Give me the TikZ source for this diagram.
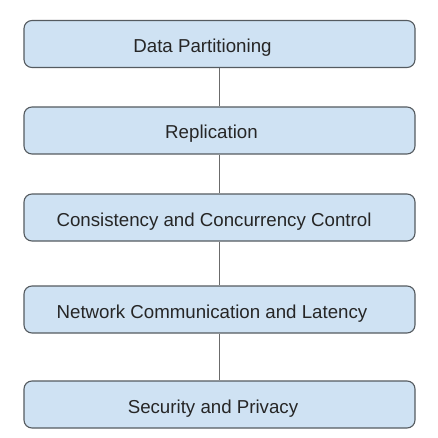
\documentclass[tikz,border=0pt]{standalone}
\usepackage{fontspec}
\setmainfont{Liberation Sans}
\usepackage{xcolor}
\definecolor{boxfill}{HTML}{CFE2F3}
\definecolor{boxline}{HTML}{555B60}
\definecolor{linkgray}{HTML}{6B6B6B}
\begin{document}
\begin{tikzpicture}[
  x=1pt, y=-1pt,
  every node/.style={font=\fontsize{18.7}{22}\selectfont},
  topic/.style={draw=boxline, line width=1.1pt, rounded corners=8pt,
                fill=boxfill, minimum width=391pt, minimum height=47pt,
                text height=17pt, text depth=0pt, text=black!85},
  link/.style={draw=linkgray, line width=1.3pt}
]
\useasboundingbox (0,0) rectangle (438,438);

%% topics, top to bottom (text set a little left of centre)
\node[topic] (part) at (219.5, 44)    {Data Partitioning\hspace*{34pt}};
\node[topic] (repl) at (219.5, 130.5) {Replication\hspace*{16pt}};
\node[topic] (cons) at (219.5, 217.5) {Consistency and Concurrency Control\hspace*{11pt}};
\node[topic] (netw) at (219.5, 309.5) {Network Communication and Latency\hspace*{15pt}};
\node[topic] (secu) at (219.5, 404.5) {Security and Privacy\hspace*{13pt}};

%% connectors
\foreach \a/\b in {part/repl, repl/cons, cons/netw, netw/secu}
  \draw[link] (\a.south) -- (\b.north);

\end{tikzpicture}
\end{document}
